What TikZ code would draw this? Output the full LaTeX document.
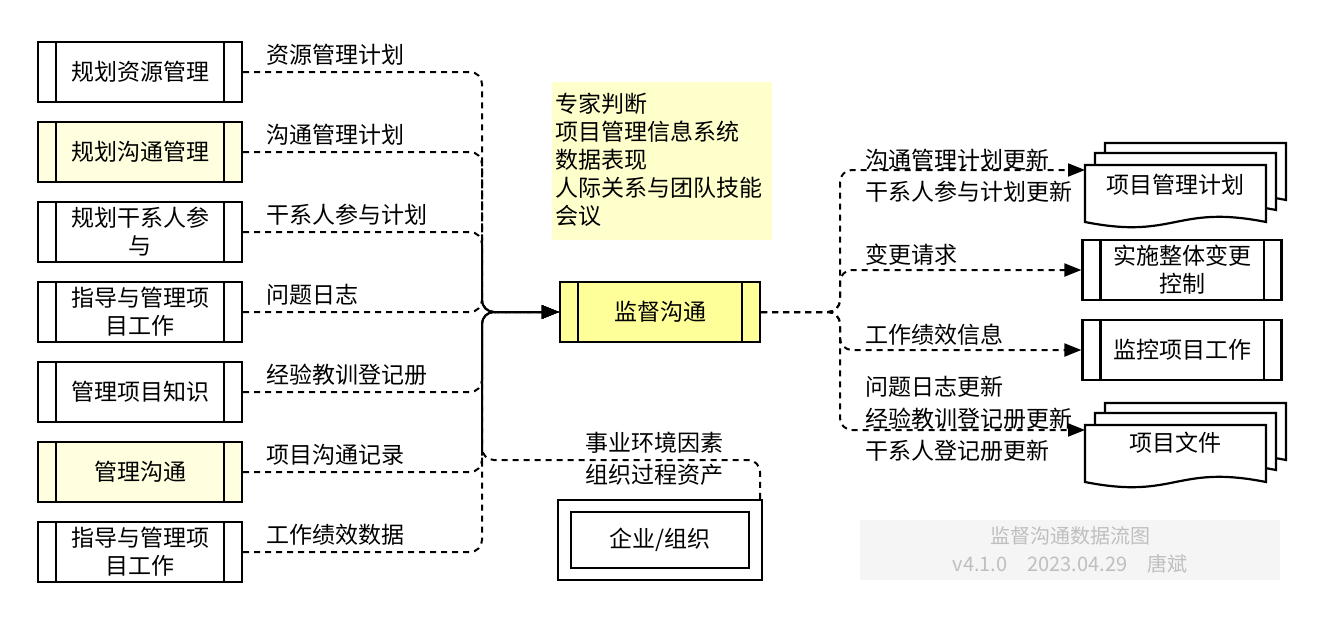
\documentclass[tikz,border=0pt]{standalone}
\usepackage{fontspec}
\setmainfont{Noto Sans CJK SC}
\usetikzlibrary{arrows.meta}
\definecolor{ly}{HTML}{FFFFE0}
\definecolor{cy}{HTML}{FFFF99}
\definecolor{ty}{HTML}{FFFFCC}
\begin{document}
\begin{tikzpicture}[x=1pt,y=-1pt,
  font=\fontsize{23}{28}\selectfont,
  proc/.style={draw,line width=2.2pt,minimum width=204pt,minimum height=60pt,inner sep=0pt,align=center,text width=160pt},
  lbl/.style={anchor=west,inner sep=0pt,align=left},
  flow/.style={dashed,dash pattern=on 6pt off 5pt,line width=2pt,rounded corners=12pt},
  tip/.style={-{Triangle[length=17pt,width=13pt]}},
  docline/.style={draw,line width=2.2pt,fill=white}]
\useasboundingbox (0,0) rectangle (1322,622);
\newcommand{\bars}[1]{\draw[line width=2.2pt] ([xshift=19pt]#1.north west)--([xshift=19pt]#1.south west) ([xshift=-19pt]#1.north east)--([xshift=-19pt]#1.south east);}
\newcommand{\docsh}[4]{\path[docline] (#1,#2)--(#3,#2)--(#3,#4) .. controls ({(#1+#3)/2},{#4-18}) and ({(#1+#3)/2},{#4+18}) .. (#1,#4) -- cycle;}
% left processes
\node[proc] (p1) at (140,72) {规划资源管理}; \bars{p1}
\node[proc,fill=ly] (p2) at (140,152) {规划沟通管理}; \bars{p2}
\node[proc] (p3) at (140,232) {规划干系人参\\与}; \bars{p3}
\node[proc] (p4) at (140,312) {指导与管理项\\目工作}; \bars{p4}
\node[proc] (p5) at (140,392) {管理项目知识}; \bars{p5}
\node[proc,fill=ly] (p6) at (140,472) {管理沟通}; \bars{p6}
\node[proc] (p7) at (140,552) {指导与管理项\\目工作}; \bars{p7}
% center
\node[proc,fill=cy,minimum width=200pt] (m) at (660,312) {监督沟通}; \bars{m}
\node[fill=ty,minimum width=220pt,minimum height=158pt,inner sep=0pt] (t) at (662,161) {};
\node[lbl,text width=218pt,font=\fontsize{23}{28}\selectfont] (tt) at (555,160) {专家判断\\项目管理信息系统\\数据表现\\人际关系与团队技能\\会议};
% enterprise
\node[draw,line width=2.2pt,minimum width=204pt,minimum height=80pt,inner sep=0pt] (e) at (660,540) {};
\node[draw,line width=2.2pt,minimum width=178pt,minimum height=56pt] (ei) at (660,540) {企业/组织};
% left flows
\foreach \p/\t in {p1/资源管理计划,p2/沟通管理计划,p3/干系人参与计划,p4/问题日志,p5/经验教训登记册,p6/项目沟通记录,p7/工作绩效数据}{
  \draw[flow,tip] (\p.east) -- (482,0 |- \p.east) -- (482,312) -- (m.west);
  \node[lbl] at ([xshift=23pt,yshift=17pt]\p.east) {\t};
}
\draw[flow,tip] (e.north -| 760,0) -- (760,460) -- (482,460) -- (482,312) -- (m.west);
\node[lbl,align=left,font=\fontsize{23}{32}\selectfont] at (585,459) {事业环境因素\\组织过程资产};
% right targets
\docsh{1105}{143}{1286}{200}
\docsh{1095}{153}{1276}{210}
\docsh{1085}{165}{1266}{222}
\node (d1) at (1175,185) {项目管理计划};
\coordinate (d1w) at (1085,170);
\node[proc,minimum width=199pt] (r2) at (1182,270) {实施整体变更\\控制}; \bars{r2}
\node[proc,minimum width=199pt] (r3) at (1182,350) {监控项目工作}; \bars{r3}
\docsh{1105}{403}{1286}{460}
\docsh{1095}{413}{1276}{470}
\docsh{1085}{425}{1266}{482}
\node (d2) at (1175,443) {项目文件};
\coordinate (d2w) at (1085,430);
% right flows
\draw[flow,tip] (m.east) -- (840,312) -- (840,170) -- (d1w);
\draw[flow,tip] (m.east) -- (840,312) -- (840,270) -- (r2.west);
\draw[flow,tip] (m.east) -- (840,312) -- (840,350) -- (r3.west);
\draw[flow,tip] (m.east) -- (840,312) -- (840,430) -- (d2w);
\node[lbl,font=\fontsize{23}{32}\selectfont] at (865,176) {沟通管理计划更新\\干系人参与计划更新};
\node[lbl] at (865,255) {变更请求};
\node[lbl] at (865,335) {工作绩效信息};
\node[lbl,font=\fontsize{23}{32}\selectfont] at (865,419) {问题日志更新\\经验教训登记册更新\\干系人登记册更新};
% watermark
\node[fill=black!4,minimum width=420pt,minimum height=60pt,text=black!25,align=center,font=\fontsize{20}{28}\selectfont] (w) at (1070,550) {监督沟通数据流图\\v4.1.0\quad 2023.04.29\quad 唐斌};
\end{tikzpicture}
\end{document}
